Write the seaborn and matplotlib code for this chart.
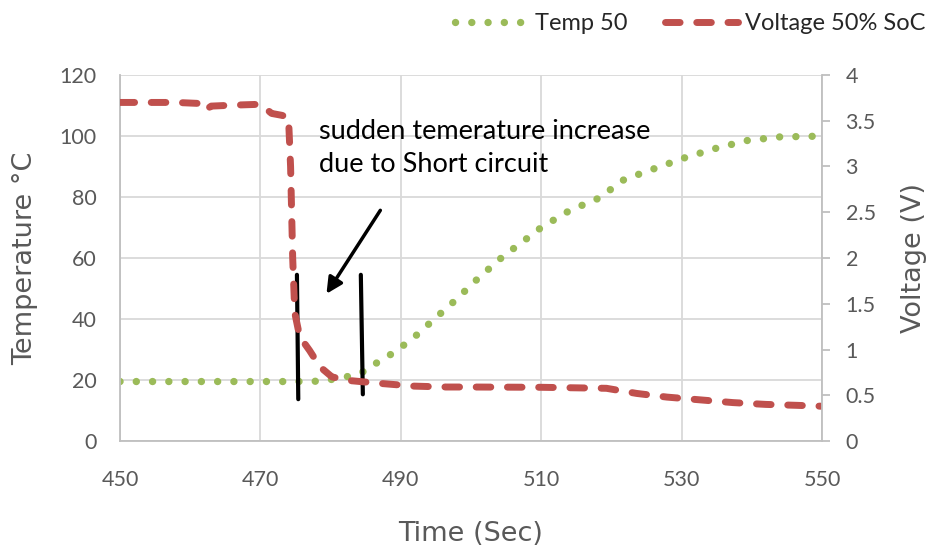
import numpy as np
import pandas as pd
import matplotlib
matplotlib.use("Agg")
import matplotlib.pyplot as plt
import seaborn as sns

# Temperature series (time in sec, temp in degC)
temp_time = [450, 455, 460, 465, 470, 475, 478, 480.2, 482.8, 485, 486.8, 488.8,
             490.7, 492.5, 494.2, 495.9, 497.7, 501, 504.5, 508.2, 510, 514,
             518.2, 521.8, 526, 530.5, 534.8, 539.3, 544, 548.7, 550]
temp_50 = [19.5, 19.5, 19.5, 19.5, 19.5, 19.5, 19.6, 20.2, 21.3, 23, 26, 28.7,
           31.9, 35.2, 38.8, 42.3, 46, 53.3, 60.4, 66.8, 70, 75.5,
           79.6, 85.7, 89.2, 92.9, 95.9, 98.5, 99.7, 99.9, 100]

# Voltage series (time in sec, voltage in V)
volt_time = [450, 455, 458, 461, 462, 463, 466, 470, 471.6, 473, 474, 474.3,
             474.6, 474.9, 475.6, 477, 478.5, 480.2, 482.8, 487, 491.8, 496.5,
             500, 510, 519.3, 523.6, 527.9, 532.6, 537.3, 542, 546.4, 550]
volt_50 = [3.70, 3.70, 3.70, 3.69, 3.61, 3.66, 3.67, 3.68, 3.58, 3.56, 3.54, 3.0,
           2.0, 1.4, 1.14, 0.99, 0.81, 0.70, 0.66, 0.63, 0.60, 0.59,
           0.59, 0.587, 0.576, 0.52, 0.48, 0.45, 0.42, 0.40, 0.39, 0.38]

x_ticks = [450, 470, 490, 510, 530, 550]
temp_ticks = [0, 20, 40, 60, 80, 100, 120]
volt_ticks = [0, 0.5, 1, 1.5, 2, 2.5, 3, 3.5, 4]
volt_labels = ["0", "0.5", "1", "1.5", "2", "2.5", "3", "3.5", "4"]

df_t = pd.DataFrame({"Time": temp_time, "Temp": temp_50})
df_v = pd.DataFrame({"Time": volt_time, "Volt": volt_50})

sns.set_theme(style="white")
plt.rcParams["font.family"] = ["Lato", "DejaVu Sans"]

green = "#9BBB59"
red = "#C0504D"
grid_c = "#D9D9D9"
spine_c = "#BFBFBF"
txt_c = "#595959"

fig = plt.figure(figsize=(9.36, 5.49), dpi=100)
ax = fig.add_axes([0.1282, 0.1967, 0.7500, 0.6667])
ax2 = ax.twinx()

sns.lineplot(data=df_t, x="Time", y="Temp", ax=ax, color=green, linewidth=5.3,
             linestyle=(0, (0.01, 2.2)), dash_capstyle="round", label="Temp 50",
             legend=False)
sns.lineplot(data=df_v, x="Time", y="Volt", ax=ax2, color=red, linewidth=5,
             linestyle=(0, (2.1, 2.4)), dash_capstyle="round",
             label="Voltage 50% SoC", legend=False)

ax.set_xlim(450, 550)
ax.set_ylim(0, 120)
ax2.set_ylim(0, 4)
ax.set_xticks(x_ticks)
ax.set_yticks(temp_ticks)
ax2.set_yticks(volt_ticks)
ax2.set_yticklabels(volt_labels)

ax.grid(True, color=grid_c, linewidth=1.3)
ax.set_axisbelow(True)
ax2.grid(False)

for a in (ax, ax2):
    for s in a.spines.values():
        s.set_visible(False)
ax.spines["left"].set_visible(True)
ax.spines["bottom"].set_visible(True)
ax2.spines["right"].set_visible(True)
for s in (ax.spines["left"], ax.spines["bottom"], ax2.spines["right"]):
    s.set_color(spine_c)
    s.set_linewidth(1.3)

ax.tick_params(axis="x", length=0, pad=21, labelsize=15.5, labelcolor=txt_c)
ax.tick_params(axis="y", length=0, pad=17, labelsize=15.5, labelcolor=txt_c)
ax2.tick_params(axis="y", length=6, width=1.3, color=spine_c, pad=11,
                labelsize=15.5, labelcolor=txt_c)

lab_font = dict(fontfamily="DejaVu Sans", fontsize=19.5, color=txt_c)
ax.set_xlabel("Time (Sec)", labelpad=22, **lab_font)
ax.set_ylabel("Temperature °C", labelpad=15, **lab_font)
ax2.set_ylabel("Voltage (V)", labelpad=18, **lab_font)

# annotation
ax.text(478.3, 105.5, "sudden temerature increase\ndue to Short circuit",
        fontsize=19.5, color="black", va="top", ha="left", linespacing=1.4)
ax.annotate("", xy=(479.2, 47.5), xytext=(487.3, 76.4),
            arrowprops=dict(arrowstyle="-|>", color="black", lw=2.5,
                            mutation_scale=24))
ax.annotate("", xy=(475.4, 12.8), xytext=(475.2, 55.4),
            arrowprops=dict(arrowstyle="-", color="black", lw=3))
ax.annotate("", xy=(484.6, 14.4), xytext=(484.3, 55.4),
            arrowprops=dict(arrowstyle="-", color="black", lw=3))

h1, l1 = ax.get_legend_handles_labels()
h2, l2 = ax2.get_legend_handles_labels()
fig.legend(h1 + h2, l1 + l2, loc="upper right", bbox_to_anchor=(1.012, 1.015),
           ncol=2, frameon=False, fontsize=17, handlelength=3.1,
           handletextpad=0.3, columnspacing=1.6)

fig.savefig("out.png", dpi=100)
